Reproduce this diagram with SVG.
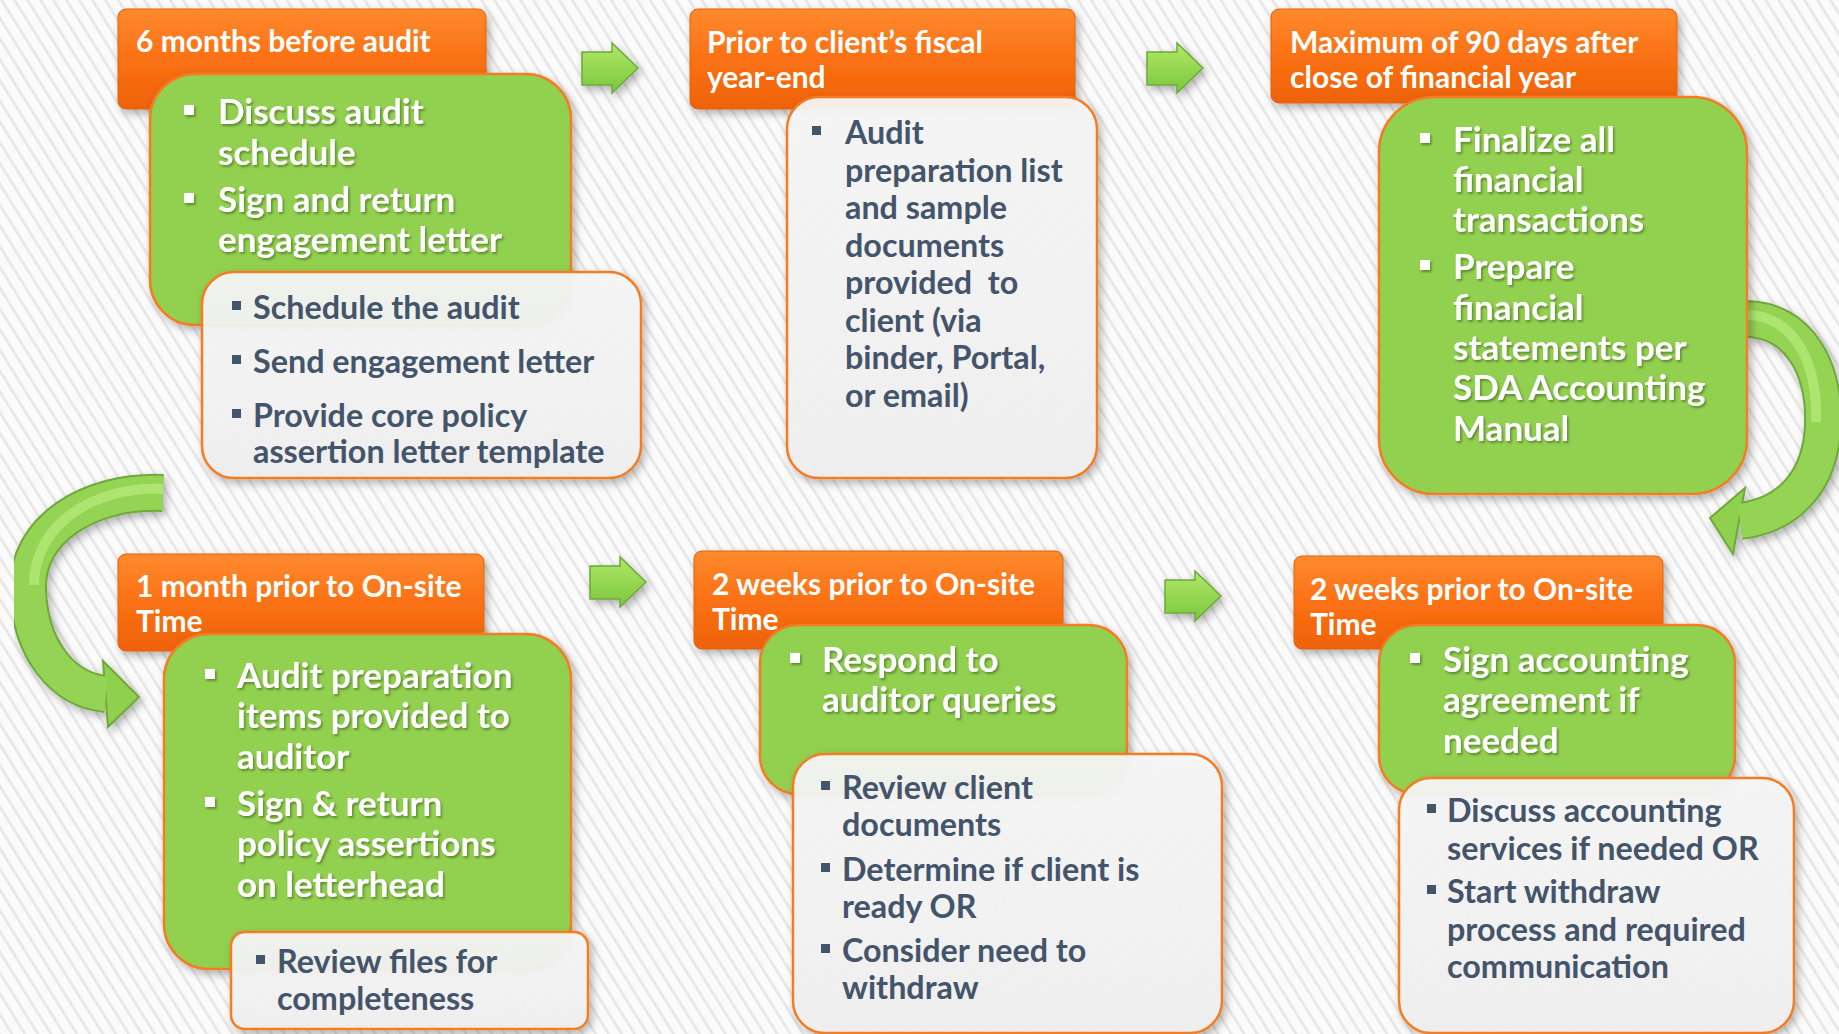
<svg xmlns="http://www.w3.org/2000/svg" width="1839" height="1034" viewBox="0 0 1839 1034">
<defs>
  <pattern id="stripes" width="11" height="11" patternUnits="userSpaceOnUse" patternTransform="rotate(-32)">
    <rect width="11" height="11" fill="#fbfbfb"/>
    <rect x="0" y="0" width="2.6" height="11" fill="#e6e6e6"/>
  </pattern>
  <linearGradient id="gOrange" x1="0" y1="0" x2="0" y2="1">
    <stop offset="0" stop-color="#ff8a2e"/>
    <stop offset="0.5" stop-color="#fb7114"/>
    <stop offset="1" stop-color="#ee6208"/>
  </linearGradient>
  <linearGradient id="gWhite" x1="0" y1="0" x2="0" y2="1">
    <stop offset="0" stop-color="#f7f7f7"/>
    <stop offset="1" stop-color="#f0f0f0"/>
  </linearGradient>
  <linearGradient id="gArrow" x1="0" y1="0" x2="0" y2="1">
    <stop offset="0" stop-color="#b0e868"/>
    <stop offset="1" stop-color="#7cc63e"/>
  </linearGradient>
  <filter id="shadow" x="-10%" y="-10%" width="130%" height="130%">
    <feDropShadow dx="3" dy="4" stdDeviation="4" flood-color="#000" flood-opacity="0.3"/>
  </filter>
  <filter id="tshadow" x="-5%" y="-20%" width="110%" height="150%">
    <feDropShadow dx="1.5" dy="2" stdDeviation="1" flood-color="#3a5a1a" flood-opacity="0.6"/>
  </filter>
  <path id="sArrow" d="M582 52 H612 V43 L638 68 L612 93 V85 H582 Z"/>
  <style>
    .hdr{fill:url(#gOrange);stroke:#e2600c;stroke-width:1}
    .grn{fill:#92d050;stroke:#f47b20;stroke-width:2.5}
    .wht{fill:url(#gWhite);fill-opacity:0.93;stroke:#f47b20;stroke-width:2.5}
    .th{font-family:Lato,"Liberation Sans",sans-serif;font-weight:bold;font-size:30px;fill:#ffffff}
    .tg{font-family:Lato,"Liberation Sans",sans-serif;font-weight:bold;font-size:35px;fill:#ffffff}
    .tw{font-family:Lato,"Liberation Sans",sans-serif;font-weight:bold;font-size:32.3px;fill:#44546a}
    .bw{fill:#ffffff}
    .bd{fill:#44546a}
    .sa{fill:url(#gArrow);stroke:#6fa83a;stroke-width:1.5}
  </style>
</defs>
<rect x="0" y="0" width="1839" height="1034" fill="url(#stripes)"/>

<g id="connectors">
  <use href="#sArrow" class="sa" filter="url(#shadow)"/>
  <use href="#sArrow" class="sa" filter="url(#shadow)" transform="translate(565,0)"/>
  <use href="#sArrow" class="sa" filter="url(#shadow)" transform="translate(8,514)"/>
  <use href="#sArrow" class="sa" filter="url(#shadow)" transform="translate(583,528)"/>
  <g id="curve-right" filter="url(#shadow)">
    <path d="M1745 319 C1800 319 1825 370 1823 425 C1821 480 1790 515 1740 521" fill="none" stroke="#6fa83a" stroke-width="38"/>
    <polygon points="1745,488 1710,518 1733,554" fill="#8fd050" stroke="#6fa83a" stroke-width="2"/>
    <path d="M1745 319 C1800 319 1825 370 1823 425 C1821 480 1790 515 1740 521" fill="none" stroke="#95d354" stroke-width="34"/>
    <path d="M1745 315 C1796 315 1818 366 1816 422" fill="none" stroke="#b8ec7c" stroke-width="10" opacity="0.7"/>
  </g>
  <g id="curve-left" filter="url(#shadow)">
    <path d="M163 493 C88 490 26 530 28 590 C30 650 63 690 106 694" fill="none" stroke="#6fa83a" stroke-width="38"/>
    <polygon points="103,661 139,697 108,727" fill="#8fd050" stroke="#6fa83a" stroke-width="2"/>
    <path d="M163 493 C88 490 26 530 28 590 C30 650 63 690 106 694" fill="none" stroke="#95d354" stroke-width="34"/>
    <path d="M163 489 C93 486 34 525 34 585" fill="none" stroke="#b8ec7c" stroke-width="10" opacity="0.7"/>
  </g>
</g>

<g id="node1">
  <rect class="hdr" x="118" y="9" width="368" height="100" rx="8" filter="url(#shadow)"/>
  <text class="th" x="136" y="52">6 months before audit</text>
  <rect class="grn" x="150" y="74" width="421" height="251" rx="45" filter="url(#shadow)"/>
  <g class="tg" filter="url(#tshadow)">
    <rect class="bw" x="184" y="105" width="10" height="10"/>
    <text x="218" y="124">Discuss audit</text>
    <text x="218" y="165">schedule</text>
    <rect class="bw" x="184" y="193" width="10" height="10"/>
    <text x="218" y="212">Sign and return</text>
    <text x="218" y="252">engagement letter</text>
  </g>
  <rect class="wht" x="202" y="272" width="439" height="206" rx="32" filter="url(#shadow)"/>
  <g class="tw">
    <rect class="bd" x="232" y="301" width="9" height="9"/>
    <text x="253" y="319">Schedule the audit</text>
    <rect class="bd" x="232" y="355" width="9" height="9"/>
    <text x="253" y="373">Send engagement letter</text>
    <rect class="bd" x="232" y="409" width="9" height="9"/>
    <text x="253" y="427">Provide core policy</text>
    <text x="253" y="463">assertion letter template</text>
  </g>
</g>

<g id="node2">
  <rect class="hdr" x="690" y="9" width="385" height="100" rx="8" filter="url(#shadow)"/>
  <text class="th" x="707" y="53">Prior to client’s fiscal</text>
  <text class="th" x="707" y="88">year-end</text>
  <rect class="wht" x="787" y="97" width="310" height="381" rx="32" filter="url(#shadow)"/>
  <g class="tw">
    <rect class="bd" x="812" y="126" width="9" height="9"/>
    <text x="845" y="144">Audit</text>
    <text x="845" y="182">preparation list</text>
    <text x="845" y="219">and sample</text>
    <text x="845" y="257">documents</text>
    <text x="845" y="294" xml:space="preserve">provided  to</text>
    <text x="845" y="332">client (via</text>
    <text x="845" y="369">binder, Portal,</text>
    <text x="845" y="407">or email)</text>
  </g>
</g>

<g id="node3">
  <rect class="hdr" x="1271" y="9" width="406" height="94" rx="8" filter="url(#shadow)"/>
  <text class="th" x="1290" y="53">Maximum of 90 days after</text>
  <text class="th" x="1290" y="88">close of financial year</text>
  <rect class="grn" x="1379" y="97" width="368" height="397" rx="55" filter="url(#shadow)"/>
  <g class="tg" filter="url(#tshadow)">
    <rect class="bw" x="1420" y="133" width="10" height="10"/>
    <text x="1453" y="152">Finalize all</text>
    <text x="1453" y="192">financial</text>
    <text x="1453" y="232">transactions</text>
    <rect class="bw" x="1420" y="260" width="10" height="10"/>
    <text x="1453" y="279">Prepare</text>
    <text x="1453" y="320">financial</text>
    <text x="1453" y="360">statements per</text>
    <text x="1453" y="400">SDA Accounting</text>
    <text x="1453" y="441">Manual</text>
  </g>
</g>

<g id="node4">
  <rect class="hdr" x="118" y="554" width="366" height="97" rx="8" filter="url(#shadow)"/>
  <text class="th" x="136" y="597">1 month prior to On-site</text>
  <text class="th" x="136" y="632">Time</text>
  <rect class="grn" x="164" y="634" width="407" height="335" rx="45" filter="url(#shadow)"/>
  <g class="tg" filter="url(#tshadow)">
    <rect class="bw" x="205" y="669" width="10" height="10"/>
    <text x="237" y="688">Audit preparation</text>
    <text x="237" y="728">items provided to</text>
    <text x="237" y="769">auditor</text>
    <rect class="bw" x="205" y="797" width="10" height="10"/>
    <text x="237" y="816">Sign &amp; return</text>
    <text x="237" y="856">policy assertions</text>
    <text x="237" y="897">on letterhead</text>
  </g>
  <rect class="wht" x="231" y="932" width="357" height="97" rx="14" filter="url(#shadow)"/>
  <g class="tw">
    <rect class="bd" x="256" y="955" width="9" height="9"/>
    <text x="277" y="973">Review files for</text>
    <text x="277" y="1010">completeness</text>
  </g>
</g>

<g id="node5">
  <rect class="hdr" x="694" y="551" width="369" height="98" rx="8" filter="url(#shadow)"/>
  <text class="th" x="712" y="595">2 weeks prior to On-site</text>
  <text class="th" x="712" y="630">Time</text>
  <rect class="grn" x="760" y="625" width="367" height="169" rx="38" filter="url(#shadow)"/>
  <g class="tg" filter="url(#tshadow)">
    <rect class="bw" x="790" y="653" width="10" height="10"/>
    <text x="822" y="672">Respond to</text>
    <text x="822" y="712">auditor queries</text>
  </g>
  <rect class="wht" x="793" y="754" width="429" height="279" rx="32" filter="url(#shadow)"/>
  <g class="tw">
    <rect class="bd" x="821" y="781" width="9" height="9"/>
    <text x="842" y="799">Review client</text>
    <text x="842" y="836">documents</text>
    <rect class="bd" x="821" y="863" width="9" height="9"/>
    <text x="842" y="881">Determine if client is</text>
    <text x="842" y="918">ready OR</text>
    <rect class="bd" x="821" y="944" width="9" height="9"/>
    <text x="842" y="962">Consider need to</text>
    <text x="842" y="999">withdraw</text>
  </g>
</g>

<g id="node6">
  <rect class="hdr" x="1294" y="556" width="369" height="93" rx="8" filter="url(#shadow)"/>
  <text class="th" x="1310" y="600">2 weeks prior to On-site</text>
  <text class="th" x="1310" y="635">Time</text>
  <rect class="grn" x="1379" y="625" width="356" height="169" rx="38" filter="url(#shadow)"/>
  <g class="tg" filter="url(#tshadow)">
    <rect class="bw" x="1410" y="653" width="10" height="10"/>
    <text x="1443" y="672">Sign accounting</text>
    <text x="1443" y="712">agreement if</text>
    <text x="1443" y="753">needed</text>
  </g>
  <rect class="wht" x="1399" y="778" width="395" height="255" rx="32" filter="url(#shadow)"/>
  <g class="tw">
    <rect class="bd" x="1427" y="804" width="9" height="9"/>
    <text x="1447" y="822">Discuss accounting</text>
    <text x="1447" y="860">services if needed OR</text>
    <rect class="bd" x="1427" y="885" width="9" height="9"/>
    <text x="1447" y="903">Start withdraw</text>
    <text x="1447" y="941">process and required</text>
    <text x="1447" y="978">communication</text>
  </g>
</g>
</svg>
